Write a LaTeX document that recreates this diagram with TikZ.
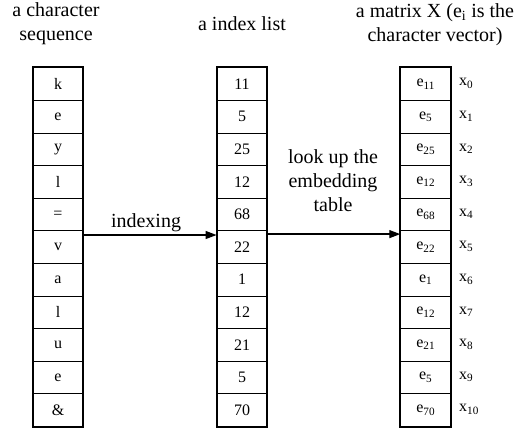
\documentclass[tikz,border=0pt]{standalone}
\usepackage{fontspec}
\setmainfont{Liberation Serif}
\usetikzlibrary{arrows.meta}
\begin{document}
\begin{tikzpicture}[x=1pt,y=-1pt,
  cell/.style={draw=black, line width=0.9pt, minimum width=50pt, minimum height=32.6pt, inner sep=0pt, font=\fontsize{16}{19}\selectfont, anchor=north},
  frame/.style={draw=black, line width=2pt},
  title/.style={font=\fontsize{20}{24}\selectfont, align=center, inner sep=0pt},
  xlab/.style={font=\fontsize{16}{19}\selectfont, anchor=west, inner sep=0pt},
  arr/.style={line width=1.3pt, -{Triangle[length=11pt,width=8pt]}}]
\useasboundingbox (0,0) rectangle (515,429);
% columns
\foreach \t [count=\i from 0] in {k,e,y,l,=,v,a,l,u,e,\&} {
  \node[cell] (l\i) at (58,{67.3+32.6*\i}) {\t};
}
\foreach \t [count=\i from 0] in {11,5,25,12,68,22,1,12,21,5,70} {
  \node[cell] (m\i) at (242,{67.3+32.6*\i}) {\t};
  \node[cell] (r\i) at (425.7,{67.3+32.6*\i}) {e\textsubscript{\t}};
  \node[xlab] (x\i) at (459,{83.6+32.6*\i}) {x\textsubscript{\i}};
}
\draw[frame] (l0.north west) rectangle (l10.south east);
\draw[frame] (m0.north west) rectangle (m10.south east);
\draw[frame] (r0.north west) rectangle (r10.south east);
% titles (anchor base = baseline of last line)
\node[title, anchor=base] (tl) at (56,40) {a character\\sequence};
\node[title, anchor=base] (tm) at (242,30) {a index list};
\node[title, anchor=base] (tr) at (435,41) {a matrix X (e\textsubscript{i} is the\\character vector)};
% arrows
\draw[arr] ([yshift=-4.7pt]l5.north east) -- ([yshift=-4.7pt]m5.north west);
\draw[arr] ([yshift=-3.8pt]m5.north east) -- ([yshift=-3.8pt]r5.north west);
\node[title, anchor=base] (lab1) at (146,227) {indexing};
\node[title, anchor=base] (lab2) at (333,211) {look up the\\embedding\\table};
\end{tikzpicture}
\end{document}
